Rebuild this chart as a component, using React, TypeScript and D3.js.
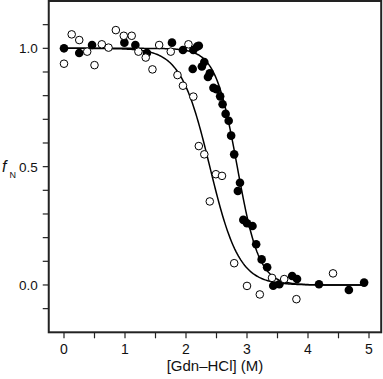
import React from "react";
import * as d3 from "d3";

// Filled circles (series 1)
const filledX = [0, 0.25, 0.46, 0.99, 1.17, 1.36, 1.77, 1.95, 2.12, 2.18, 2.21, 2.11, 2.3, 2.26, 2.39, 2.36, 2.45, 2.5, 2.56, 2.6, 2.65, 2.7, 2.74, 2.79, 2.885, 2.85, 2.94, 3.0, 3.09, 3.15, 3.24, 3.33, 3.43, 3.53, 3.74, 3.82, 4.18, 4.67, 4.92];
const filledY = [1.0, 0.98, 1.014, 1.024, 1.014, 0.98, 1.024, 0.993, 0.993, 1.007, 1.011, 0.913, 0.942, 0.923, 0.894, 0.879, 0.833, 0.827, 0.797, 0.764, 0.723, 0.694, 0.631, 0.552, 0.432, 0.397, 0.275, 0.261, 0.249, 0.172, 0.108, 0.075, -0.003, 0.003, 0.038, 0.025, 0.003, -0.021, 0.01];

// Open circles (series 2)
const openX = [0, 0.126, 0.25, 0.38, 0.5, 0.62, 0.73, 0.85, 0.98, 1.11, 1.22, 1.34, 1.45, 1.56, 1.75, 2.04, 1.86, 1.95, 2.12, 2.21, 2.3, 2.49, 2.59, 2.39, 2.79, 3.0, 3.21, 3.41, 3.61, 3.81, 4.41];
const openY = [0.935, 1.059, 1.035, 0.986, 0.929, 1.017, 1.003, 1.077, 1.053, 1.053, 0.986, 0.961, 0.911, 1.014, 0.986, 1.017, 0.887, 0.842, 0.796, 0.587, 0.552, 0.468, 0.461, 0.353, 0.092, -0.004, -0.04, 0.03, 0.025, -0.06, 0.049];

// Two-state fit parameters (midpoint Cm, steepness m)
const filledFit = { cm: 2.84, m: 5.6 };
const openFit = { cm: 2.39, m: 4.2 };

const xTickLabels = [0, 1, 2, 3, 4, 5];
const yTickLabels = [0, 0.5, 1.0];

const W = 383;
const H = 379;
const FONT = "'Liberation Sans', Arial, Helvetica, sans-serif";

export default function App() {
  const x = d3.scaleLinear().domain([-0.25, 5.2]).range([48.75, 381.2]);
  const y = d3.scaleLinear().domain([-0.2, 1.2]).range([332.3, 1]);
  const [x0, x1] = x.range();
  const [yb, yt] = y.range();

  const fit = (p: { cm: number; m: number }) => (c: number) => 1 / (1 + Math.exp(p.m * (c - p.cm)));
  const xs = d3.range(0, 4.9001, 0.02);
  const line = d3
    .line<[number, number]>()
    .x((d) => x(d[0]))
    .y((d) => y(d[1]))
    .curve(d3.curveLinear);
  const fFilled = fit(filledFit);
  const fOpen = fit(openFit);

  const xMinor = d3.range(0, 5.01, 0.5);
  const yMinor = d3.range(-0.1, 1.101, 0.1);

  return (
    <svg width={W} height={H} style={{ position: "absolute", left: 0, top: 0 }} fontFamily={FONT}>
      <rect x={0} y={0} width={W} height={H} fill="white" />
      {/* ticks */}
      {xMinor.map((t) => (
        <line key={"xt" + t} x1={x(t)} x2={x(t)} y1={yb} y2={yb + 6} stroke="#222" strokeWidth={1.2} />
      ))}
      {yMinor.map((t) => (
        <line key={"yt" + t.toFixed(1)} x1={x0 - 6} x2={x0} y1={y(t)} y2={y(t)} stroke="#222" strokeWidth={1.2} />
      ))}
      {xTickLabels.map((t) => (
        <text key={"xl" + t} x={x(t)} y={yb + 22} fontSize={14} textAnchor="middle" fill="#111">
          {t}
        </text>
      ))}
      {yTickLabels.map((t) => (
        <text key={"yl" + t} x={x0 - 11} y={y(t) + 5} fontSize={13.5} textAnchor="end" fill="#111">
          {t.toFixed(1)}
        </text>
      ))}
      <text x={2} y={y(0.5) + 5.5} fontSize={16} fontStyle="italic" fill="#111">
        f
      </text>
      <text x={9.5} y={y(0.5) + 11} fontSize={9} fill="#111">
        N
      </text>
      <text x={(x0 + x1) / 2} y={371} fontSize={15} textAnchor="middle" fill="#111">
        [Gdn–HCl] (M)
      </text>

      {/* fit curves */}
      <path d={line(xs.map((c) => [c, fFilled(c)]))!} fill="none" stroke="#000" strokeWidth={1.5} />
      <path d={line(xs.map((c) => [c, fOpen(c)]))!} fill="none" stroke="#000" strokeWidth={1.5} />

      {/* points */}
      {filledX.map((c, i) => (
        <circle key={"f" + i} cx={x(c)} cy={y(filledY[i])} r={4.3} fill="#000" />
      ))}
      {openX.map((c, i) => (
        <circle key={"o" + i} cx={x(c)} cy={y(openY[i])} r={3.8} fill="#fff" stroke="#000" strokeWidth={1} />
      ))}

      {/* frame */}
      <rect x={x0} y={yt} width={x1 - x0} height={yb - yt} fill="none" stroke="#222" strokeWidth={2} />
    </svg>
  );
}
